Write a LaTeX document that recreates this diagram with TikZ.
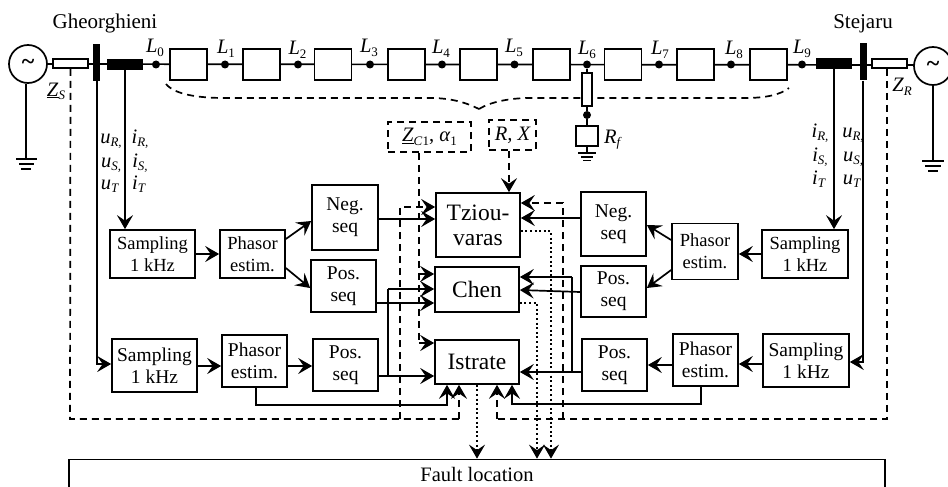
\documentclass[tikz,border=0pt]{standalone}
\usepackage{fontspec}
\setmainfont{Liberation Serif}
\usetikzlibrary{arrows.meta,calc}
\tikzset{
 x=1pt,y=-1pt,
 lw/.style={line width=1.7pt},
 fa/.style={font=\fontsize{18.5}{22}\selectfont},
 fb/.style={font=\fontsize{19.5}{22}\selectfont},
 bx/.style={draw,lw,fill=white,inner sep=0pt,align=center,fb,minimum width=#1},
 bx/.default=65pt,
 sect/.style={draw,lw,fill=white,inner sep=0pt,minimum width=37pt,minimum height=31pt},
 dotn/.style={circle,fill=black,inner sep=0pt,minimum size=8pt},
 blk/.style={draw=none,fill=black,inner sep=0pt},
 lab/.style={inner sep=0pt,anchor=base,font=\fontsize{20.5}{22}\selectfont},
 big/.style={bx=84pt,font=\fontsize{23.5}{25}\selectfont},
 arr/.style={lw,-{Stealth[length=14pt,width=16pt,inset=5.5pt]}},
 dsh/.style={lw,dash pattern=on 7pt off 5pt},
 dsa/.style={dsh,-{Stealth[length=14pt,width=16pt,inset=5.5pt]}},
 dta/.style={lw,dash pattern=on 2pt off 2.6pt,-{Stealth[length=14pt,width=16pt,inset=5.5pt]}},
 res/.style={draw,lw,fill=white,inner sep=0pt},
 srcn/.style={draw,lw,fill=white,circle,inner sep=0pt,minimum size=38pt,font=\bfseries\fontsize{24}{24}\selectfont},
}
\newcommand{\Sbs}[2]{\textit{#1}\raisebox{-3.5pt}{\fontsize{13}{13}\selectfont #2}}
\begin{document}
\begin{tikzpicture}
\useasboundingbox (0,0) rectangle (948,487);
% line
\coordinate (lineL) at (28,64);
\coordinate (lineR) at (933,65);
\draw[lw] (lineL) -- (lineR);
% wide dashed brace
\coordinate (brL) at (166,84);
\coordinate (brR) at (789,88);
\coordinate (brM) at (479,109);
\draw[dsh] (brL) .. controls (175,95) and (200,98) .. (225,98) -- (430,98) .. controls (450,98) and (465,102) .. (brM);
\draw[dsh] (brM) .. controls (490,102) and (510,98) .. (530,98) -- (745,98) .. controls (765,98) and (780,95) .. (brR);
% sources
\node[srcn] (srcL) at (28,64) {\raisebox{-3pt}{\textasciitilde}};
\node[srcn] (srcR) at (933,66) {\raisebox{-3pt}{\textasciitilde}};
\coordinate (gL) at (26,159);
\coordinate (gR) at (933,161);
\draw[lw] (srcL.south -| gL) -- (gL) (16,159) -- (37,159) (19,164) -- (34,164) (21,169) -- (31,169);
\draw[lw] (srcR.south) -- (gR) (922,161) -- (944,161) (925,166) -- (941,166) (928,171) -- (938,171);
% impedances and buses
\node[res,minimum width=35pt,minimum height=9pt] (zs) at (70.5,63.5) {};
\node[res,minimum width=35pt,minimum height=9pt] (zr) at (889.5,63.5) {};
\node[blk,minimum width=7pt,minimum height=37pt] (busL) at (96.5,62.5) {};
\node[blk,minimum width=7pt,minimum height=37pt] (busR) at (863.5,62) {};
\node[blk,minimum width=36pt,minimum height=11pt] (ctL) at (125,64.5) {};
\node[blk,minimum width=36pt,minimum height=11pt] (ctR) at (834,63.5) {};
% sections
\node[sect] (s0) at (188.5,64.5) {};
\node[sect] (s1) at (261.5,64.5) {};
\node[sect] (s2) at (333,64.5) {};
\node[sect] (s3) at (406.5,64.5) {};
\node[sect] (s4) at (478.5,64.5) {};
\node[sect] (s5) at (551.5,64.5) {};
\node[sect] (s6) at (623,64.5) {};
\node[sect] (s7) at (695.5,64.5) {};
\node[sect] (s8) at (768.5,64.5) {};
% dots and labels
\foreach \n/\x/\lx/\y in {0/156/155/53,1/225/226/54,2/298/297.5/55,3/370/369/53,4/442/441/54,5/514.5/514/53,6/587/587/55,7/659/660/55,8/731/734/55,9/802/802/54}{
 \node[dotn] (d\n) at (\x,64.5) {};
 \node[lab] (l\n) at (\lx,\y) {\Sbs{L}{\n}};
}
% fault branch
\node[res,minimum width=10pt,minimum height=33pt] (rf) at (587,89.5) {};
\node[dotn] (df) at (587,115) {};
\node[res,minimum width=22pt,minimum height=20pt] (rfb) at (587,136) {};
\coordinate (gf) at (587,153);
\draw[lw] (d6) -- (rf) -- (df) -- (rfb) -- (gf) (578,153) -- (596,153) (581,157) -- (593,157) (583,160.5) -- (591,160.5);
% names
\node[inner sep=0pt,font=\fontsize{21}{22}\selectfont] (nG) at (105,23) {Gheorghieni};
\node[inner sep=0pt,font=\fontsize{21}{22}\selectfont] (nS) at (863,24) {Stejaru};
\node[lab] (zsl) at (56,96) {\underline{\textit{Z}}\raisebox{-3.5pt}{\fontsize{13}{13}\selectfont\textit{S}}};
\node[lab] (zrl) at (902,92) {\Sbs{Z}{\textit{R}}};
\node[lab] (rfl) at (613,143) {\Sbs{R}{\textit{f}}};
% voltage/current labels
\foreach \n/\x/\y/\v/\s in {a/111/143/u/{R,},b/111/167/u/{S,},c/110/189/u/T,d/140/143/i/{R,},e/140/167/i/{S,},f/139/189/i/T,g/820/137/i/{R,},h/820/161/i/{S,},i/819/184/i/T,j/853/137/u/{R,},k/853/161/u/{S,},l/852/184/u/T}{
 \node[lab] (v\n) at (\x,\y) {\Sbs{\v}{\textit{\s}}};
}
% dashed parameter boxes
\node[draw,dsh,inner sep=0pt,minimum width=83pt,minimum height=30pt,font=\fontsize{20.5}{22}\selectfont] (zc) at (429.5,137) {\underline{\textit{Z}}\raisebox{-3.5pt}{\fontsize{13}{13}\selectfont\textit{C}1}, \textit{α}\raisebox{-3.5pt}{\fontsize{13}{13}\selectfont 1}};
\node[draw,dsh,inner sep=0pt,minimum width=47pt,minimum height=30pt,font=\itshape\fontsize{20.5}{22}\selectfont] (rx) at (512.5,135) {R, X};
% blocks left
\node[bx=85pt,fa,minimum height=48pt] (sa1) at (152.5,254) {Sampling\\1 kHz};
\node[bx,fa,minimum height=48pt] (ph1) at (252.5,254) {Phasor\\estim.};
\node[bx=66pt,minimum height=65pt] (ng1) at (345,217.5) {Neg.\\seq};
\node[bx,minimum height=52pt] (po1) at (343.5,286) {Pos.\\seq};
\node[bx=85pt,minimum height=53pt] (sa2) at (154.5,365.5) {Sampling\\1 kHz};
\node[bx,minimum height=52pt] (ph2) at (254.5,361) {Phasor\\estim.};
\node[bx,minimum height=52pt] (po2) at (345.5,365) {Pos.\\seq};
% blocks right
\node[bx=86pt,fa,minimum height=48pt] (sa3) at (805,254) {Sampling\\1 kHz};
\node[bx=66pt,fa,minimum height=56pt] (ph3) at (705,251.5) {Phasor\\estim.};
\node[bx,minimum height=64pt] (ng3) at (613.5,224) {Neg.\\seq};
\node[bx,minimum height=51pt] (po3) at (613.5,291.5) {Pos.\\seq};
\node[bx=86pt,minimum height=53pt] (sa4) at (806,360.5) {Sampling\\1 kHz};
\node[bx,minimum height=52pt] (ph4) at (705.5,360) {Phasor\\estim.};
\node[bx,minimum height=52pt] (po4) at (614.5,365) {Pos.\\seq};
% central
\node[big,minimum height=64pt] (tz) at (478,225) {Tziou-\\varas};
\node[big,minimum height=45pt] (ch) at (477,289.5) {Chen};
\node[big,minimum height=44pt] (is) at (477,362) {Istrate};
\node[bx=816pt,minimum height=30pt,font=\fontsize{20.5}{22}\selectfont] (fl) at (477,474.5) {Fault location};
% measurement wires
\draw[arr] (ctL.south) -- (ctL.south |- sa1.north);
\draw[arr] (ctR.south) -- (ctR.south |- sa3.north);
\draw[arr] (busL.south -| 97,0) -- (97,364) -- (sa2.west |- 0,364);
\draw[arr] (busR.south -| 863,0) -- (863,362) -- (sa4.east |- 0,362);
% signal flow
\draw[arr] (sa1.east) -- (ph1.west |- sa1.east);
\draw[arr] (sa3.west) -- (ph3.east |- sa3.west);
\draw[arr] (ph1.east |- 0,239) -- (ng1.west |- 0,221);
\draw[arr] (ph1.east |- 0,268) -- (po1.west |- 0,288);
\draw[arr] (ph3.west |- 0,240) -- (ng3.east |- 0,225);
\draw[arr] (ph3.west |- 0,270) -- (po3.east |- 0,288);
\draw[arr] (sa2.east |- 0,366) -- (ph2.west |- 0,366);
\draw[arr] (ph2.east |- 0,366) -- (po2.west |- 0,366);
\draw[arr] (sa4.west |- 0,364) -- (ph4.east |- 0,364);
\draw[arr] (ph4.west |- 0,365) -- (po4.east |- 0,365);
\draw[arr] (ng1.east |- 0,219) -- (tz.west |- 0,219);
\draw[arr] (ng3.west |- 0,218) -- (tz.east |- 0,218);
\draw[arr] (po1.east |- 0,303) -- (ch.west |- 0,303);
\draw[arr] (po2.east |- 0,376) -- (is.west |- 0,376);
\draw[lw] (388,376) -- (388,289);
\draw[arr] (388,289) -- (ch.west |- 0,289);
\draw[arr] (po4.west |- 0,372) -- (is.east |- 0,372);
\draw[arr] (po3.west |- 0,292) -- (ch.east |- 0,290);
\draw[lw] (572,372) -- (572,277);
\draw[arr] (572,277) -- (ch.east |- 0,277);
\draw[arr] (ph2.south -| 256,0) -- (256,405) -- (447,405) -- (is.south -| 447,0);
\draw[arr] (ph4.south -| 701,0) -- (701,404) -- (512,404) -- (is.south -| 512,0);
% dashed
\draw[dsh] (zs.south) -- (70,419) -- (459,419);
\draw[dsa] (459,419) -- (is.south -| 459,0);
\draw[dsh] (zr.south -| 887,0) -- (887,419) -- (497,419);
\draw[dsa] (497,419) -- (is.south -| 497,0);
\draw[dsa] (400,419) -- (400,207) -- (tz.west |- 0,207);
\draw[dsa] (563,419) -- (563,203) -- (tz.east |- 0,203);
\draw[dsh] (zc.south -| 419,0) -- (419,343);
\draw[dsa] (419,274) -- (ch.west |- 0,274);
\draw[dsa] (419,343) -- (is.west |- 0,343);
\draw[dsa] (rx.south -| 509,0) -- (tz.north -| 509,0);
% dotted
\draw[dta] (tz.east |- 0,231) -- (551,231) -- (fl.north -| 551,0);
\draw[dta] (ch.east |- 0,303) -- (537,303) -- (fl.north -| 537,0);
\draw[dta] (is.south) -- (fl.north -| is.south);
\end{tikzpicture}
\end{document}
